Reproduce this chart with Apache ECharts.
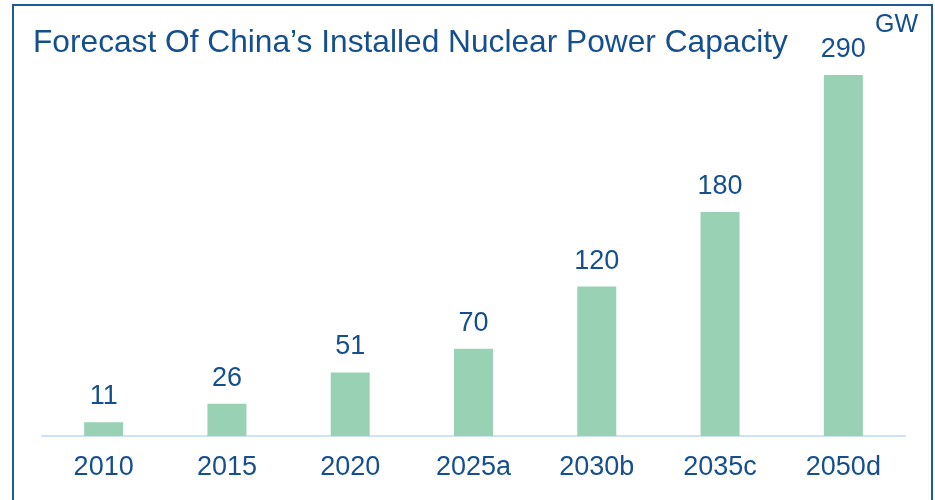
<!DOCTYPE html>
<html>
<head>
<meta charset="utf-8">
<script src="https://cdn.jsdelivr.net/npm/echarts@6/dist/echarts.min.js"></script>
<style>
  html, body { margin: 0; padding: 0; background: #fff; }
  #chart { width: 935px; height: 500px; }
</style>
</head>
<body>
<div id="chart"></div>
<script>
const categories = ["2010", "2015", "2020", "2025a", "2030b", "2035c", "2050d"];
const capacity = [11, 26, 51, 70, 120, 180, 290];

const textColor = "#154f8d";
const fontFamily = "'Liberation Sans', Arial, sans-serif";

const chart = echarts.init(document.getElementById("chart"));
const option = {
  animation: false,
  graphic: [
    {
      type: "rect",
      shape: { x: 13, y: 5, width: 919, height: 520 },
      style: { fill: "none", stroke: "#1f5a96", lineWidth: 2 },
      silent: true,
    },
    {
      type: "text",
      x: 33,
      y: 43,
      style: {
        text: "Forecast Of China\u2019s Installed Nuclear Power Capacity",
        fill: textColor,
        font: "31.7px " + fontFamily,
        verticalAlign: "middle",
      },
    },
    {
      type: "text",
      x: 875,
      y: 25,
      style: {
        text: "GW",
        fill: textColor,
        font: "25px " + fontFamily,
        verticalAlign: "middle",
      },
    },
  ],
  grid: { left: 42, right: 30, top: 75, bottom: 64 },
  xAxis: {
    type: "category",
    data: categories,
    axisLine: { lineStyle: { color: "#cfe3f7", width: 2 } },
    axisTick: { show: false },
    axisLabel: {
      color: textColor,
      fontSize: 27,
      fontFamily: fontFamily,
      margin: 18,
    },
  },
  yAxis: {
    type: "value",
    min: 0,
    max: 290,
    show: false,
    splitLine: { show: false },
  },
  series: [
    {
      type: "bar",
      data: capacity,
      barWidth: 39,
      itemStyle: { color: "#99d1b5" },
      label: {
        show: true,
        position: "top",
        distance: 12,
        color: textColor,
        fontSize: 27,
        fontFamily: fontFamily,
      },
    },
  ],
};
chart.setOption(option);
</script>
</body>
</html>
